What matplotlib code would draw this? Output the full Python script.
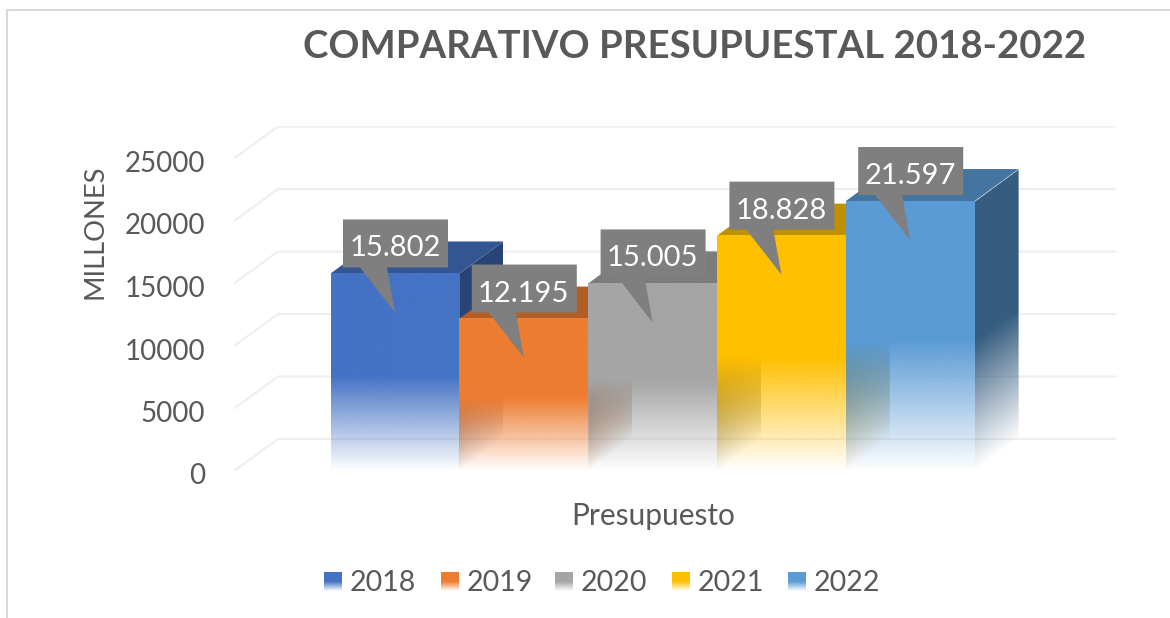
import numpy as np
import matplotlib
matplotlib.use("Agg")
import matplotlib.pyplot as plt
from matplotlib.patches import Polygon
from matplotlib.lines import Line2D
from matplotlib.colors import to_rgb
from matplotlib.transforms import Affine2D

years = ["2018", "2019", "2020", "2021", "2022"]
values = [15802, 12195, 15005, 18828, 21597]
value_labels = ["15.802", "12.195", "15.005", "18.828", "21.597"]
colors = ["#4472C4", "#ED7D31", "#A5A5A5", "#FFC000", "#5B9BD5"]
y_ticks = [0, 5000, 10000, 15000, 20000, 25000]
title = "COMPARATIVO PRESUPUESTAL 2018-2022"

plt.rcParams["font.family"] = ["Lato", "DejaVu Sans"]
W, H = 1170, 618
TXT = "#595959"
fig = plt.figure(figsize=(W / 100, H / 100), dpi=100, facecolor="white")
L, R, T, B = 234, 1116, 126, 471
ax = fig.add_axes([L / W, 1 - B / H, (R - L) / W, (B - T) / H])
PX_X = 128.8
PX_Y = 0.0125
x_low = -0.5 + (L - 330.6) / PX_X
x_high = -0.5 + (R - 330.6) / PX_X
y_high = (B - T) / PX_Y
DX = 44 / PX_X
DY = 32 / PX_Y
FADE = 0.48


def to_data(xp, yp):
    return x_low + (xp - L) / PX_X, (B - yp) / PX_Y


for s in ax.spines.values():
    s.set_visible(False)
ax.patch.set_alpha(0)
ax.set_yticks(y_ticks)
ax.set_xticks([])
ax.tick_params(axis="y", length=0, pad=21, labelsize=20, labelcolor=TXT)
for lab in ax.get_yticklabels():
    lab.set_verticalalignment("center")
    lab.set_transform(lab.get_transform() + Affine2D().translate(0, -5.5))

for v in y_ticks:
    ax.plot([x_low, x_low + DX, x_high], [v, v + DY, v + DY], color="#EFEFEF",
            lw=1.6, zorder=1, solid_joinstyle="miter")


def rgba_img(color, alpha):
    img = np.zeros(alpha.shape + (4,))
    img[..., :3] = to_rgb(color)
    img[..., 3] = alpha
    return img


for i, (v, c) in enumerate(zip(values, colors)):
    z = 2 + i
    x0, x1 = i - 0.5, i + 0.5
    rgb = np.array(to_rgb(c))
    # top face
    ax.add_patch(Polygon([(x0, v), (x1, v), (x1 + DX, v + DY), (x0 + DX, v + DY)],
                         closed=True, fc=rgb * 0.75, ec="none", zorder=z))
    # side face: fade is sheared along the depth direction
    xs = np.linspace(x1, x1 + DX, 120)
    ys = np.linspace(0, v + DY, 400)
    X, Y = np.meshgrid(xs, ys)
    t = (Y - (X - x1) / DX * DY) / v
    alpha = np.clip(t / FADE, 0, 1) * (t <= 1.0)
    im = ax.imshow(rgba_img(rgb * 0.6, alpha), origin="lower", aspect="auto",
                   extent=(x1, x1 + DX, 0, v + DY), zorder=z, interpolation="bilinear")
    clip = Polygon([(x1, 0), (x1 + DX, DY), (x1 + DX, v + DY), (x1, v)], closed=True,
                   transform=ax.transData)
    im.set_clip_path(clip)
    # front face
    ys = np.linspace(0, v, 400)
    alpha = np.clip(ys / v / FADE, 0, 1)[:, None]
    ax.imshow(rgba_img(c, alpha), origin="lower", aspect="auto",
              extent=(x0, x1, 0, v), zorder=z + 0.1, interpolation="bilinear")

# callouts
for i, (v, lab) in enumerate(zip(values, value_labels)):
    tipx, tipy = i, v - 39 / PX_Y
    offs = [(-52, -93), (53, -93), (53, -45), (-8, -45), (0, 0), (-35, -45), (-52, -45)]
    pts = [(tipx + a / PX_X, tipy - b / PX_Y) for a, b in offs]
    ax.add_patch(Polygon(pts, closed=True, fc="#7F7F7F", ec="none", zorder=20))
    ax.text(tipx, tipy + 64 / PX_Y, lab, color="white", ha="center", va="center",
            fontsize=21, zorder=21)

ax.set_xlim(x_low, x_high)
ax.set_ylim(0, y_high)

# axis titles and title
ax.set_xlabel("Presupuesto", fontsize=21.5, color=TXT)
ax.xaxis.set_label_coords((653 - L) / (R - L), -(516 - B) / (B - T))
ax.xaxis.label.set_verticalalignment("center")
ax.set_ylabel("MILLONES", fontsize=19.7, color=TXT)
ax.yaxis.set_label_coords((95 - L) / (R - L), (B - 232) / (B - T))
ax.yaxis.label.set_verticalalignment("center")
fig.text(694.5 / W, 1 - 47 / H, title, fontsize=27.6, fontweight="bold", color=TXT,
         ha="center", va="center")

# legend
swatch_x = [324, 441, 555, 672, 788]
for yr, c, sx in zip(years, colors, swatch_x):
    x_a, y_a = to_data(sx, 591)
    x_b, y_b = to_data(sx + 18, 572)
    alpha = np.clip(np.linspace(0, 1, 100) / 0.5, 0, 1)[:, None]
    ax.imshow(rgba_img(c, alpha), origin="lower", aspect="auto",
              extent=(x_a, x_b, y_a, y_b), clip_on=False, zorder=5)
    fig.text((sx + 26) / W, 1 - 583 / H, yr, fontsize=20.5, color=TXT, ha="left", va="center")
ax.set_xlim(x_low, x_high)
ax.set_ylim(0, y_high)

# chart frame
fig.add_artist(Line2D([7 / W, 7 / W, 1], [0, 1 - 10 / H, 1 - 10 / H], color="#D9D9D9", lw=1.5,
                      transform=fig.transFigure))

fig.savefig("out.png", dpi=100)
